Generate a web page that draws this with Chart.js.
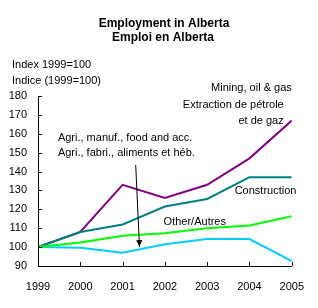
<!DOCTYPE html>
<html lang="en">
<head>
  <meta charset="UTF-8">
  <title>Employment in Alberta</title>
  <script src="https://cdn.jsdelivr.net/npm/chart.js@4/dist/chart.umd.min.js"></script>
  <style>
    html, body { margin: 0; padding: 0; background: #fff; }
    .wrap { position: relative; width: 318px; height: 308px; }
  </style>
</head>
<body>
  <div class="wrap"><canvas id="chart" width="318" height="308"></canvas></div>

  <script>
    // data (index 1999 = 100)
    var years = [1999, 2000, 2001, 2002, 2003, 2004, 2005];
    var mining = [100, 108, 133, 126, 133, 147, 167];
    var construction = [100, 108, 112, 121.5, 125.5, 137, 137];
    var other = [100, 102.5, 106, 107.3, 110, 111.5, 116.3];
    var agri = [100, 99.7, 97, 101.5, 104.3, 104.3, 92.6];
    var yTicks = [90, 100, 110, 120, 130, 140, 150, 160, 170, 180];

    var FONT = '"Liberation Sans", Arial, sans-serif';

    function pts(values){
      return years.map(function(y, i){ return { x: y, y: values[i] }; });
    }

    function series(label, values, color){
      return {
        label: label,
        data: pts(values),
        borderColor: color,
        backgroundColor: color,
        borderWidth: 2,
        pointRadius: 0,
        tension: 0,
        fill: false
      };
    }

    // notes placed in data units: [text, x, y, align]
    var notes = [
      ['Mining, oil & gas', 2005.0, 184.2, 'right'],
      ['Extraction de pétrole', 2004.81, 175.2, 'right'],
      ['et de gaz', 2004.81, 166.8, 'right'],
      ['Agri., manuf., food and acc.', 1999.47, 157.8, 'left'],
      ['Agri., fabri., aliments et héb.', 1999.47, 149.8, 'left'],
      ['Construction', 2003.65, 129.7, 'left'],
      ['Other/Autres', 2001.97, 113.3, 'left']
    ];
    var arrow = { from: [2001.31, 143.5], to: [2001.40, 100] };

    var decor = {
      id: 'decor',
      afterDraw: function(chart){
        var ctx = chart.ctx, a = chart.chartArea;
        var xs = chart.scales.x, ys = chart.scales.y;
        ctx.save();

        // titles
        ctx.fillStyle = '#000';
        ctx.textAlign = 'center';
        ctx.textBaseline = 'middle';
        ctx.font = 'bold 12px ' + FONT;
        ctx.fillText('Employment in Alberta', 164, 24);
        ctx.fillText('Emploi en Alberta', 163, 38);

        ctx.textAlign = 'left';
        ctx.font = '11px ' + FONT;
        ctx.fillText('Index 1999=100', 12, 65);
        ctx.fillText('Indice (1999=100)', 12, 81);

        // axes with inward ticks
        ctx.strokeStyle = '#000';
        ctx.lineWidth = 1;
        ctx.beginPath();
        ctx.moveTo(a.left + 0.5, a.top);
        ctx.lineTo(a.left + 0.5, a.bottom + 0.5);
        ctx.lineTo(a.right, a.bottom + 0.5);
        yTicks.forEach(function(v){
          var py = Math.round(ys.getPixelForValue(v)) + 0.5;
          ctx.moveTo(a.left, py);
          ctx.lineTo(a.left + 4, py);
        });
        years.forEach(function(v){
          var px = Math.round(xs.getPixelForValue(v)) + 0.5;
          ctx.moveTo(px, a.bottom);
          ctx.lineTo(px, a.bottom - 4);
        });
        ctx.stroke();

        // notes
        ctx.font = '11px ' + FONT;
        ctx.textBaseline = 'middle';
        notes.forEach(function(n){
          ctx.textAlign = n[3];
          ctx.fillText(n[0], xs.getPixelForValue(n[1]), ys.getPixelForValue(n[2]));
        });

        // arrow
        var x1 = xs.getPixelForValue(arrow.from[0]), y1 = ys.getPixelForValue(arrow.from[1]);
        var x2 = xs.getPixelForValue(arrow.to[0]), y2 = ys.getPixelForValue(arrow.to[1]);
        ctx.lineWidth = 1;
        ctx.beginPath();
        ctx.moveTo(x1, y1);
        ctx.lineTo(x2, y2);
        ctx.stroke();
        var ang = Math.atan2(y2 - y1, x2 - x1);
        ctx.beginPath();
        ctx.moveTo(x2, y2);
        ctx.lineTo(x2 - 7 * Math.cos(ang) + 3 * Math.sin(ang), y2 - 7 * Math.sin(ang) - 3 * Math.cos(ang));
        ctx.lineTo(x2 - 7 * Math.cos(ang) - 3 * Math.sin(ang), y2 - 7 * Math.sin(ang) + 3 * Math.cos(ang));
        ctx.closePath();
        ctx.fill();

        ctx.restore();
      }
    };

    new Chart(document.getElementById('chart'), {
      type: 'line',
      data: {
        datasets: [
          series('Other/Autres', other, '#00ff00'),
          series('Agri', agri, '#00ccff'),
          series('Construction', construction, '#008080'),
          series('Mining', mining, '#800080')
        ]
      },
      options: {
        responsive: false,
        animation: false,
        layout: { padding: { top: 96, right: 23, left: 0, bottom: 0 } },
        plugins: { legend: { display: false }, tooltip: { enabled: false }, title: { display: false } },
        scales: {
          x: {
            type: 'linear',
            min: 1999,
            max: 2005,
            border: { display: false },
            grid: { display: false, drawTicks: false },
            afterFit: function(s){ s.height = 42; },
            afterBuildTicks: function(s){ s.ticks = years.map(function(v){ return { value: v }; }); },
            ticks: {
              padding: 14,
              color: '#000',
              font: { family: FONT, size: 11 },
              maxRotation: 0,
              callback: function(v){ return String(v); }
            }
          },
          y: {
            min: 90,
            max: 180,
            border: { display: false },
            grid: { display: false, drawTicks: false },
            afterFit: function(s){ s.width = 38; },
            afterBuildTicks: function(s){ s.ticks = yTicks.map(function(v){ return { value: v }; }); },
            ticks: {
              padding: 11,
              color: '#000',
              font: { family: FONT, size: 11 }
            }
          }
        }
      },
      plugins: [decor]
    });
  </script>
</body>
</html>
